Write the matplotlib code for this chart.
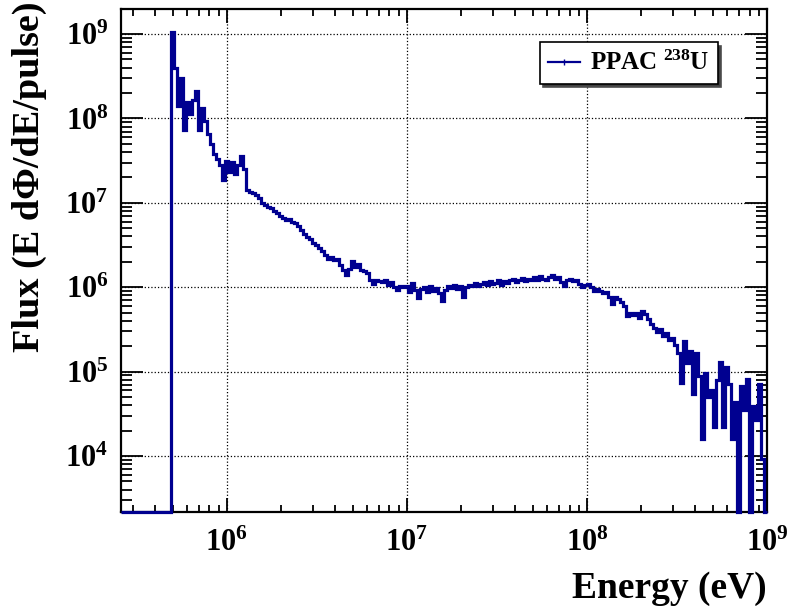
import numpy as np
import matplotlib.pyplot as plt
from matplotlib.lines import Line2D
from matplotlib.ticker import FixedLocator, FixedFormatter, LogLocator, NullFormatter

plt.rcParams['font.family'] = 'Liberation Serif'
plt.rcParams['font.weight'] = 'bold'
plt.rcParams['mathtext.fontset'] = 'custom'
plt.rcParams['mathtext.rm'] = 'Liberation Serif:bold'
plt.rcParams['mathtext.bf'] = 'Liberation Serif:bold'
plt.rcParams['mathtext.it'] = 'Liberation Serif:bold:italic'

# energy binning (eV): empty range below threshold, then log bins up to 1 GeV
e_low = 2.58e5
e_threshold = 10 ** 5.69
e_high = 1e9

# log10 of flux per bin above threshold, None = empty bin
log_flux = [
    9.02, 8.60, 8.15, 8.48, 7.86, 8.20, 8.05, 8.22, 8.33, 7.86,
    8.12, 7.97, 7.82, 7.70, 7.58, 7.52, 7.45, 7.27, 7.50, 7.36,
    7.48, 7.34, 7.45, 7.56, 7.40, 7.15, 7.13, 7.12, 7.09, 7.06,
    7.00, 6.98, 6.95, 6.94, 6.90, 6.88, 6.85, 6.82, 6.80, 6.81,
    6.77, 6.76, 6.73, 6.68, 6.63, 6.60, 6.57, 6.52, 6.50, 6.47,
    6.43, 6.38, 6.33, 6.36, 6.32, 6.34, 6.26, 6.20, 6.15, 6.22,
    6.31, 6.24, 6.27, 6.20, 6.19, 6.17, 6.08, 6.04, 6.09, 6.07,
    6.06, 6.08, 6.03, 6.06, 6.00, 5.97, 6.01, 6.00, 6.02, 5.94,
    6.05, 5.97, 5.87, 5.98, 6.00, 5.94, 6.01, 5.96, 5.99, 5.93,
    5.84, 5.97, 6.02, 5.99, 6.03, 5.98, 6.02, 5.89, 6.00, 6.03,
    6.01, 6.05, 6.02, 6.04, 6.06, 6.03, 6.07, 6.04, 6.05, 6.08,
    6.03, 6.07, 6.05, 6.08, 6.10, 6.06, 6.09, 6.11, 6.07, 6.10,
    6.08, 6.12, 6.09, 6.13, 6.10, 6.08, 6.12, 6.14, 6.10, 6.12,
    6.06, 6.02, 6.08, 6.10, 6.07, 6.08, 6.04, 6.00, 6.03, 6.04,
    6.00, 5.96, 5.98, 5.95, 5.93, 5.94, 5.88, 5.80, 5.88, 5.86,
    5.83, 5.78, 5.66, 5.70, 5.67, 5.70, 5.64, 5.72, 5.68, 5.62,
    5.56, 5.52, 5.47, 5.50, 5.42, 5.46, 5.38, 5.40, 5.31, 5.22,
    4.87, 5.36, 5.10, 5.24, 4.73, 5.22, 4.95, 4.20, 4.98, 4.70,
    4.78, 4.34, 4.90, 5.11, 4.34, 5.06, 4.85, 4.20, 4.64, None,
    4.83, 4.55, 4.91, None, 4.59, 4.43, 4.85, 3.96, None,
]

y_min = 10 ** 3.336
y_max = 10 ** 9.297
decades_x = [6, 7, 8, 9]
decades_y = [4, 5, 6, 7, 8, 9]
legend_label = 'PPAC $^{238}$U'
line_color = '#000090'

edges = np.concatenate([[e_low], np.logspace(np.log10(e_threshold), np.log10(e_high), len(log_flux) + 1)])
flux = np.array([0.0] + [10 ** v if v is not None else 0.0 for v in log_flux])
# empty bins sit on the axis floor
flux_drawn = np.where(flux > 0, flux, y_min)

fig = plt.figure(figsize=(7.87, 6.06), dpi=100)
ax = fig.add_axes([0.1537, 0.1551, 0.8209, 0.8300])

ax.stairs(flux_drawn, edges, baseline=None, color=line_color, lw=2.3, clip_on=False, zorder=3)

ax.set_xscale('log')
ax.set_yscale('log')
ax.set_xlim(e_low, e_high)
ax.set_ylim(y_min, y_max)

ax.xaxis.set_major_locator(FixedLocator([10.0 ** d for d in decades_x]))
ax.xaxis.set_major_formatter(FixedFormatter([r'$10^{%d}$' % d for d in decades_x]))
ax.yaxis.set_major_locator(FixedLocator([10.0 ** d for d in decades_y]))
ax.yaxis.set_major_formatter(FixedFormatter([r'$10^{%d}$' % d for d in decades_y]))
for axis in (ax.xaxis, ax.yaxis):
    axis.set_minor_locator(LogLocator(base=10, subs=np.arange(2, 10), numticks=50))
    axis.set_minor_formatter(NullFormatter())

ax.tick_params(which='both', direction='in', top=True, right=True, width=1.3, color='black')
ax.tick_params(axis='x', which='major', length=10, pad=12, labelsize=22)
ax.tick_params(axis='x', which='minor', length=5)
ax.tick_params(axis='y', which='major', length=16, pad=9, labelsize=22)
ax.tick_params(axis='y', which='minor', length=8)
for s in ax.spines.values():
    s.set_linewidth(1.6)

ax.grid(True, which='major', ls=':', color='black', lw=0.9)

handle = Line2D([], [], color=line_color, lw=1.6, marker='|', markersize=4, markeredgewidth=1)
ax.legend([handle], [legend_label], loc='upper right', bbox_to_anchor=(0.924, 0.934),
          borderaxespad=0, fontsize=18, frameon=True, fancybox=False, edgecolor='black',
          framealpha=1, handlelength=1.25, borderpad=0.35, handletextpad=0.4,
          shadow={'ox': 2.5, 'oy': -2.5, 'facecolor': '0.25', 'alpha': 1.0})
ax.get_legend().get_frame().set_linewidth(1.2)

fig.text(0.038, 0.997, 'Flux (E d\u03a6/dE/pulse)', rotation=90, ha='center', va='top', fontsize=27.5)
fig.text(0.9746, 0.013, 'Energy (eV)', ha='right', va='baseline', fontsize=27)

fig.savefig('out.png', dpi=100)
